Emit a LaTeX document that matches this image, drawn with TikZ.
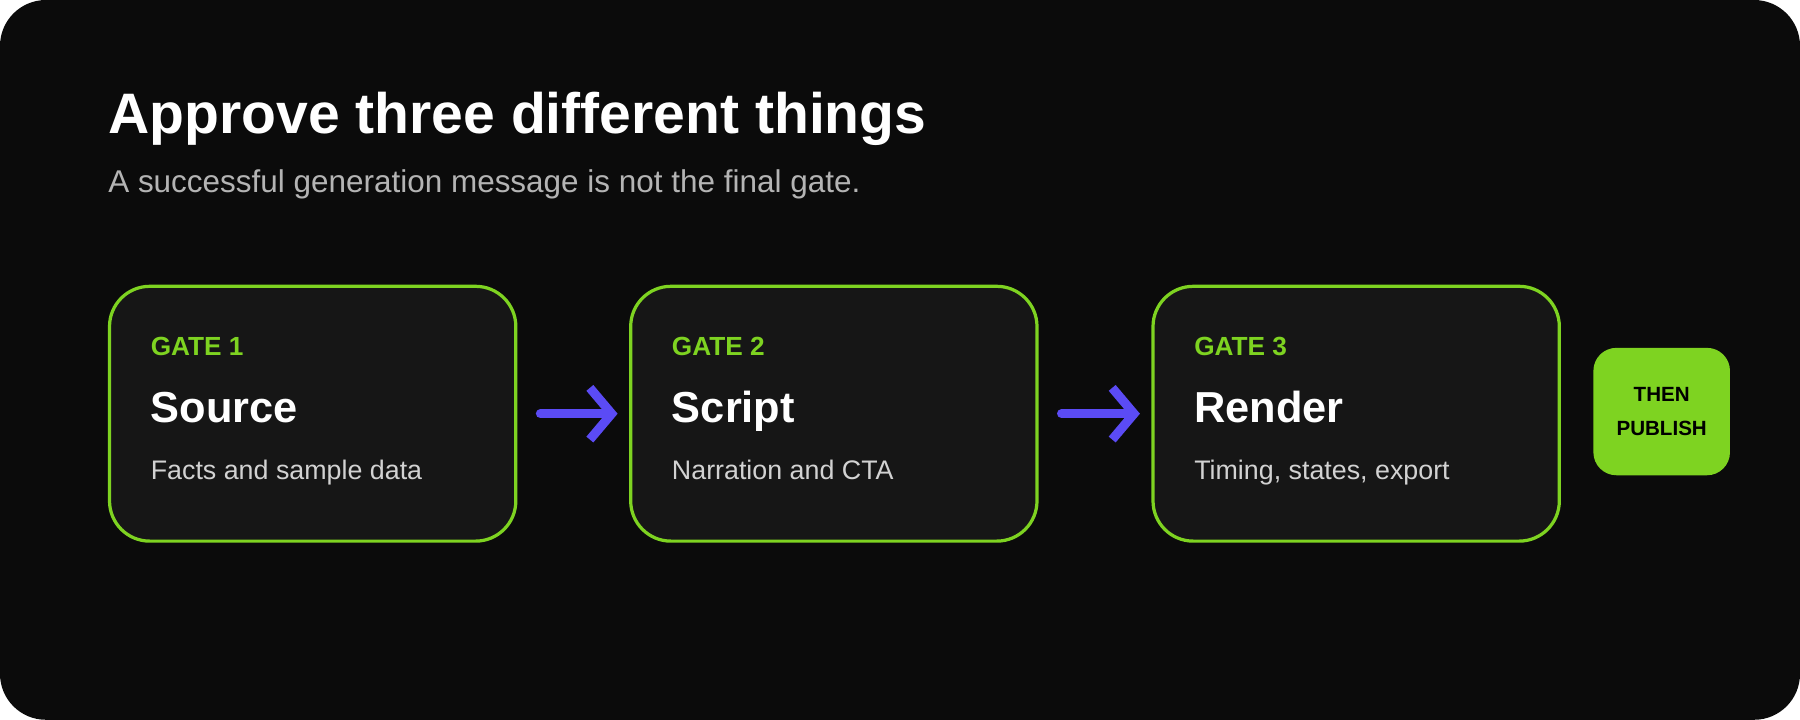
\documentclass[tikz,border=0pt]{standalone}
\usepackage{fontspec}
\setmainfont{Liberation Sans}
\usetikzlibrary{arrows.meta,positioning}
\definecolor{bg}{HTML}{0B0B0B}
\definecolor{card}{HTML}{161616}
\definecolor{gatec}{HTML}{7ED321}
\definecolor{arrowc}{HTML}{5B4BF5}
\definecolor{subc}{HTML}{B4B4B4}
\definecolor{descc}{HTML}{D2D2D2}
\tikzset{>={Latex[width=2mm,length=2mm]}}
\tikzset{
  gate/.style={draw=gatec, line width=1.6pt, fill=card, rounded corners=0.7cm,
    minimum width=7.08cm, minimum height=4.44cm, anchor=north west},
  tag/.style={anchor=base west, inner sep=0pt, text=gatec, font=\fontsize{13}{15}\selectfont\bfseries},
  head/.style={anchor=base west, inner sep=0pt, text=white, font=\fontsize{21.5}{25}\selectfont\bfseries},
  desc/.style={anchor=base west, inner sep=0pt, text=descc, font=\fontsize{13.3}{16}\selectfont},
  flow/.style={draw=arrowc, line width=4.5pt, line cap=round, line join=round,
    -{Straight Barb[length=3.8mm,width=9mm,line width=4.5pt]}}
}
\begin{document}
\begin{tikzpicture}[x=0.02cm,y=-0.02cm]
	\useasboundingbox (0,0) rectangle (1568,627);
	\fill[bg, rounded corners=0.8cm] (0,0) rectangle (1568,627);
	\node[anchor=base west, inner sep=0pt, text=white, font=\fontsize{28.3}{33}\selectfont\bfseries] (title) at (94,116) {Approve three different things};
	\node[anchor=base west, inner sep=0pt, text=subc, font=\fontsize{15.6}{18}\selectfont] (subtitle) at (94,168) {A successful generation message is not the final gate.};
	% gates
	\node[gate] (g1) at (94,248) {};
	\node[gate] (g2) at (548,248) {};
	\node[gate] (g3) at (1003,248) {};
	\foreach \n/\x/\h/\d in {1/131/Source/Facts and sample data,
	                        2/585/Script/Narration and CTA,
	                        3/1040/Render/{Timing, states, export}}{
		\node[tag] (tag\n) at (\x,310) {GATE \n};
		\node[head] (head\n) at (\x,368) {\h};
		\node[desc] (desc\n) at (\x,418) {\d};
	}
	\node[fill=gatec, rounded corners=0.4cm, minimum width=2.38cm, minimum height=2.22cm,
	  align=center, font=\fontsize{10.2}{16.5}\selectfont\bfseries, text=black] (publish) at (1447.5,358.5) {THEN\\PUBLISH};
	% arrows
	\draw[flow] ([xshift=0.4cm]g1.east) -- ([xshift=-0.2cm]g2.west);
	\draw[flow] ([xshift=0.4cm]g2.east) -- ([xshift=-0.2cm]g3.west);
\end{tikzpicture}
\end{document}
